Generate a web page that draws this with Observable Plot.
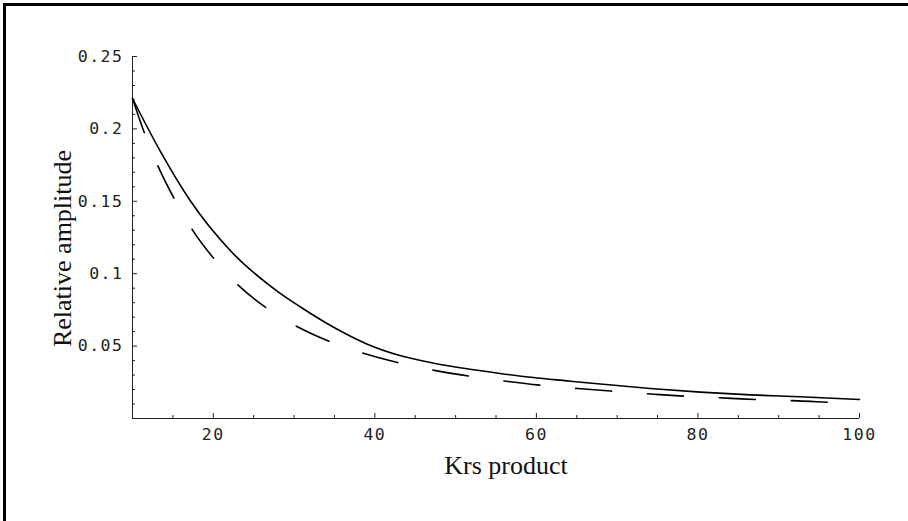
<!DOCTYPE html>
<html>
<head>
<meta charset="utf-8">
<script src="https://cdn.jsdelivr.net/npm/d3@7"></script>
<script src="https://cdn.jsdelivr.net/npm/@observablehq/plot@0.6"></script>
<style>
  html, body { margin: 0; padding: 0; background: #fff; }
  #wrap { position: relative; width: 908px; height: 521px; overflow: hidden; }
  #frame { position: absolute; left: 3px; top: 3px; width: 1000px; height: 1000px;
           border-left: 3px solid #000; border-top: 3px solid #000; box-sizing: border-box; pointer-events: none; }
  svg { display: block; }
</style>
</head>
<body>
<div id="wrap"><div id="frame"></div></div>
<script>
// Solid curve
const solidX = [10, 13.4, 17.2, 22.1, 27.9, 30.8, 34.9, 39, 43.1, 47.3, 51.4, 55.5, 59.6, 63.8, 67.9, 74.1, 80.3, 86.5, 92.6, 100];
const solidY = [0.221, 0.185, 0.150, 0.116, 0.0880, 0.0770, 0.0630, 0.0515, 0.0435, 0.0382, 0.0343, 0.0311, 0.0283, 0.0260, 0.0238, 0.0207, 0.0182, 0.0163, 0.0150, 0.0131];
// Dashed curve
const dashX = [10, 11.5, 13.2, 15.2, 17.5, 20.2, 23.25, 26.8, 30.6, 34.7, 38.9, 43.3, 47.7, 52.2, 56.5, 61.2, 65.5, 70, 74.5, 79, 83.5, 88, 92.4, 97, 100];
const dashY = [0.221, 0.1968, 0.1738, 0.1515, 0.1296, 0.1096, 0.0912, 0.0755, 0.0628, 0.0525, 0.0445, 0.0380, 0.0329, 0.0288, 0.0256, 0.0226, 0.0205, 0.0186, 0.0168, 0.0152, 0.0141, 0.0129, 0.0122, 0.0110, 0.0105];

const xTicks = [20, 40, 60, 80, 100];
const xTickLabels = ["20", "40", "60", "80", "100"];
const xMinor = [15, 25, 30, 35, 45, 50, 55, 65, 70, 75, 85, 90, 95];
const yTicks = [0.05, 0.1, 0.15, 0.2, 0.25];
const yTickLabels = ["0.05", "0.1", "0.15", "0.2", "0.25"];
const yMinor = [0.01, 0.02, 0.03, 0.04, 0.06, 0.07, 0.08, 0.09, 0.11, 0.12, 0.13, 0.14, 0.16, 0.17, 0.18, 0.19, 0.21, 0.22, 0.23, 0.24];
const xLabel = "Krs product";
const yLabel = "Relative amplitude";

const solid = solidX.map((x, i) => ({x, y: solidY[i]}));
const dashed = dashX.map((x, i) => ({x, y: dashY[i]}));

const W = 908, H = 521;
const mL = 132, mR = 49, mT = 56, mB = 103;
const fw = W - mL - mR, fh = H - mT - mB;
const mono = "'DejaVu Sans Mono', monospace";
const serif = "'Liberation Serif', serif";

const chart = Plot.plot({
  width: W, height: H,
  marginLeft: mL, marginRight: mR, marginTop: mT, marginBottom: mB,
  x: {domain: [10, 100], axis: null},
  y: {domain: [0, 0.25], axis: null},
  style: {background: "transparent", overflow: "visible"},
  marks: [
    Plot.ruleY([0], {stroke: "#222", strokeWidth: 1}),
    Plot.ruleX([10], {stroke: "#222", strokeWidth: 1}),
    Plot.tickX(xTicks, {x: d => d, insetTop: fh - 5, stroke: "#222", strokeWidth: 1}),
    Plot.tickX(xMinor, {x: d => d, insetTop: fh - 3, stroke: "#222", strokeWidth: 1}),
    Plot.tickY(yTicks, {y: d => d, insetRight: fw - 5, stroke: "#222", strokeWidth: 1}),
    Plot.tickY(yMinor, {y: d => d, insetRight: fw - 3, stroke: "#222", strokeWidth: 1}),
    Plot.text(xTicks, {x: d => d, text: (d, i) => xTickLabels[i], frameAnchor: "bottom", dy: 16,
      textAnchor: "middle", lineAnchor: "middle", fontFamily: mono, fontSize: 16.5, fill: "#222"}),
    Plot.text(yTicks, {y: d => d, text: (d, i) => yTickLabels[i], frameAnchor: "left", dx: -9,
      textAnchor: "end", lineAnchor: "middle", fontFamily: mono, fontSize: 16.5, fill: "#222"}),
    Plot.text([xLabel], {text: d => d, frameAnchor: "bottom", dx: 10, dy: 55, textAnchor: "middle", lineAnchor: "bottom",
      fontFamily: serif, fontSize: 26, fill: "#111"}),
    Plot.text([yLabel], {text: d => d, frameAnchor: "left", dx: -62, dy: 11, rotate: -90,
      textAnchor: "middle", lineAnchor: "bottom", fontFamily: serif, fontSize: 26, fill: "#111"}),
    Plot.line(dashed, {x: "x", y: "y", stroke: "#000", strokeWidth: 1.6, strokeDasharray: "36,36", curve: "monotone-x"}),
    Plot.line(solid, {x: "x", y: "y", stroke: "#000", strokeWidth: 1.6, curve: "monotone-x"})
  ]
});
chart.querySelectorAll("text").forEach(t => {
  const g = t.closest("g");
  const ff = (t.getAttribute("font-family") || (g && g.getAttribute("font-family")) || "");
  if (ff.includes("Mono")) t.setAttribute("letter-spacing", "1.5");
});
document.getElementById("wrap").prepend(chart);
</script>
</body>
</html>
